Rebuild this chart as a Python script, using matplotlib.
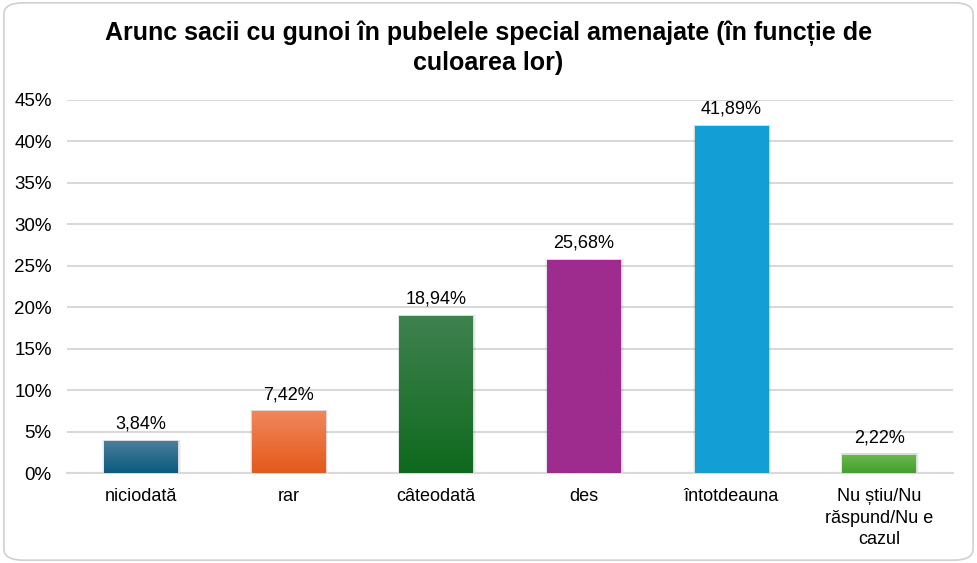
import matplotlib
matplotlib.use("Agg")
import matplotlib.pyplot as plt
import numpy as np
from matplotlib.patches import FancyBboxPatch
from matplotlib.colors import LinearSegmentedColormap

plt.rcParams['font.family'] = ['Liberation Sans', 'DejaVu Sans']

categories = ["niciodată", "rar", "câteodată", "des", "întotdeauna", "Nu știu/Nu\nrăspund/Nu e\ncazul"]
values = [3.84, 7.42, 18.94, 25.68, 41.89, 2.22]
labels = ["3,84%", "7,42%", "18,94%", "25,68%", "41,89%", "2,22%"]
top_colors = ["#4a7d9a", "#f0875c", "#3f8250", "#9e2b8e", "#139ed5", "#6cb752"]
bottom_colors = ["#0b5a80", "#e4591a", "#0e691d", "#9e2b8e", "#139ed5", "#43a02a"]
yticks = [0, 5, 10, 15, 20, 25, 30, 35, 40, 45]
title = "Arunc sacii cu gunoi în pubelele special amenajate (în funcție de\nculoarea lor)"

fig = plt.figure(figsize=(9.77, 5.63), dpi=100)
fig.patch.set_facecolor("white")
border = FancyBboxPatch((0.004, 0.005), 0.992, 0.99, boxstyle="round,pad=0,rounding_size=0.02",
                        transform=fig.transFigure, facecolor="none", edgecolor="#d0d0d0",
                        linewidth=1.2, zorder=-1)
fig.patches.append(border)

ax = fig.add_axes([67/977, 90/563, (953-67)/977, 373/563])
ax.set_facecolor("none")
x = np.arange(len(categories))
bars = ax.bar(x, values, width=0.5, color=bottom_colors, zorder=3)
for b, tc, bc in zip(bars, top_colors, bottom_colors):
    cmap = LinearSegmentedColormap.from_list("g", [bc, tc])
    grad = np.linspace(0, 1, 256).reshape(-1, 1)
    x0, y0 = b.get_x(), b.get_y()
    w, h = b.get_width(), b.get_height()
    im = ax.imshow(grad, cmap=cmap, aspect="auto", origin="lower",
                   extent=[x0, x0 + w, y0, y0 + h], zorder=3.5)
    im.set_clip_path(b)
    # soft shadow around the bar
    for k, a in [(0.03, 0.04), (0.02, 0.05), (0.01, 0.06)]:
        ax.bar(x0 + w / 2 + 0.004, h + 0.15, width=w + k, bottom=0, color="#000000",
               alpha=a, zorder=2.5, linewidth=0)

for xi, v, lab in zip(x, values, labels):
    ax.text(xi, v + 1.0, lab, ha="center", va="bottom", fontsize=13, color="#000000", zorder=5)

ax.set_xlim(-0.5, len(categories) - 0.5)
ax.set_ylim(0, 45)
ax.set_yticks(yticks)
ax.set_yticklabels([f"{t}%" for t in yticks], fontsize=13.5)
ax.set_xticks(x)
ax.set_xticklabels(categories, fontsize=13, linespacing=1.35)
ax.yaxis.grid(True, color="#d9d9d9", linewidth=1.5, zorder=0)
ax.set_axisbelow(True)
for s in ["top", "right", "left"]:
    ax.spines[s].set_visible(False)
ax.spines["bottom"].set_color("#d9d9d9")
ax.spines["bottom"].set_linewidth(1.5)
ax.tick_params(axis="both", length=0, colors="#000000")
ax.tick_params(axis="y", pad=11)
ax.tick_params(axis="x", pad=11)

fig.text(0.5, 1 - 48/563, title, ha="center", va="center", fontsize=18, fontweight="bold",
         linespacing=1.25)

fig.savefig("out.png", dpi=100)
